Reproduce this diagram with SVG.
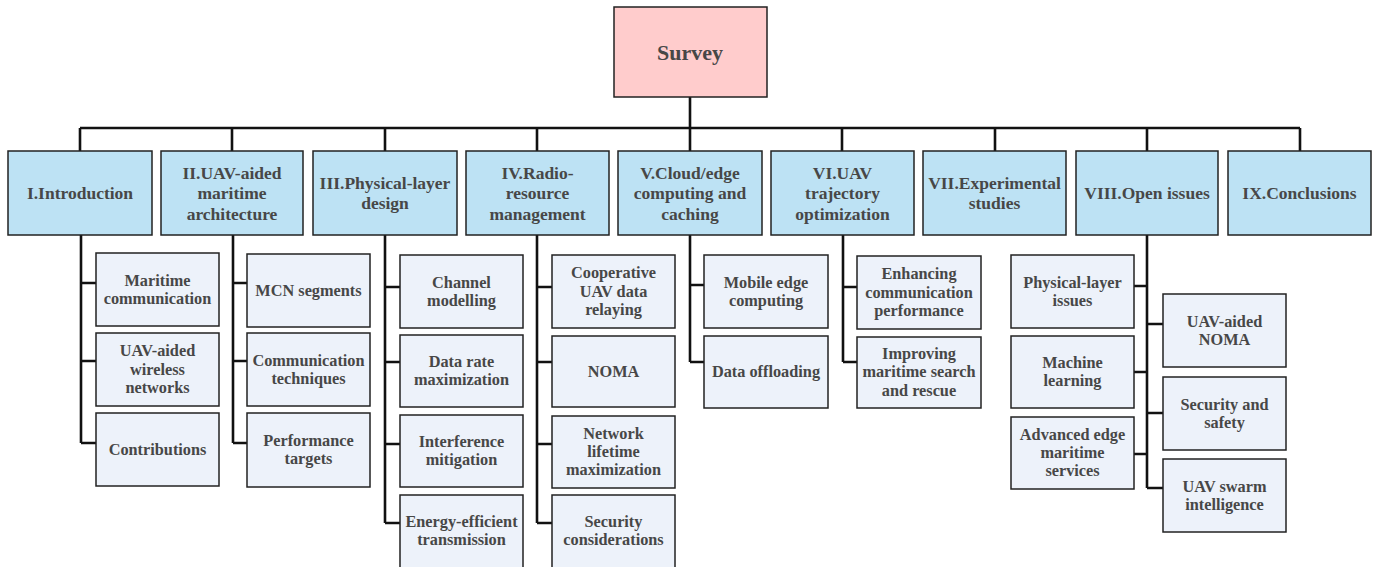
<svg xmlns="http://www.w3.org/2000/svg" width="1374" height="567" viewBox="0 0 1374 567">
<style>
.root{fill:#ffcccc;stroke:#222;stroke-width:1.5}
.hdr{fill:#bde2f4;stroke:#222;stroke-width:1.5}
.sub{fill:#edf2fa;stroke:#222;stroke-width:1.5}
text{font-family:"Liberation Serif","Times New Roman",serif;font-weight:bold;fill:#474747;text-anchor:middle}
.th{font-size:17.5px}
.ts{font-size:16.3px}
.tr{font-size:22px}
.con{fill:none;stroke:#111;stroke-width:2.6}
</style>
<rect width="1374" height="567" fill="#ffffff"/>
<g id="connectors" class="con">
<path d="M690 97V151M80 128H1300M80 128V151M232 128V151M385 128V151M537 128V151M842 128V151M995 128V151M1147 128V151M1300 128V151"/>
<path d="M81 235V443M81 283H96M81 361H96M81 443H96"/>
<path d="M233 235V443M233 283H247M233 361H247M233 443H247"/>
<path d="M385 235V523M385 287H400M385 362H400M385 444H400M385 523H400"/>
<path d="M537 235V523M537 287H552M537 362H552M537 444H552M537 523H552"/>
<path d="M690 235V362M690 285H704M690 362H704"/>
<path d="M843 235V362M843 287H857M843 362H857"/>
<path d="M1147 235V488M1134 286H1147M1134 372H1147M1134 454H1147M1147 324H1163M1147 413H1163M1147 488H1163"/>
</g>
<g id="survey"><rect class="root" x="614" y="7" width="153" height="90"/><text class="tr" x="690" y="60">Survey</text></g>
<g id="h1"><rect class="hdr" x="8" y="151" width="144" height="84"/><text class="th" x="80" y="199">I.Introduction</text></g>
<g id="h2"><rect class="hdr" x="161" y="151" width="142" height="84"/><text class="th" x="232" y="178.5">II.UAV-aided</text><text class="th" x="232" y="199">maritime</text><text class="th" x="232" y="219.5">architecture</text></g>
<g id="h3"><rect class="hdr" x="313" y="151" width="144" height="84"/><text class="th" x="385" y="188.7">III.Physical-layer</text><text class="th" x="385" y="209.2">design</text></g>
<g id="h4"><rect class="hdr" x="466" y="151" width="143" height="84"/><text class="th" x="537.5" y="178.5">IV.Radio-</text><text class="th" x="537.5" y="199">resource</text><text class="th" x="537.5" y="219.5">management</text></g>
<g id="h5"><rect class="hdr" x="618" y="151" width="144" height="84"/><text class="th" x="690" y="178.5">V.Cloud/edge</text><text class="th" x="690" y="199">computing and</text><text class="th" x="690" y="219.5">caching</text></g>
<g id="h6"><rect class="hdr" x="771" y="151" width="143" height="84"/><text class="th" x="842.5" y="178.5">VI.UAV</text><text class="th" x="842.5" y="199">trajectory</text><text class="th" x="842.5" y="219.5">optimization</text></g>
<g id="h7"><rect class="hdr" x="923" y="151" width="143" height="84"/><text class="th" x="994.5" y="188.7">VII.Experimental</text><text class="th" x="994.5" y="209.2">studies</text></g>
<g id="h8"><rect class="hdr" x="1076" y="151" width="142" height="84"/><text class="th" x="1147" y="199">VIII.Open issues</text></g>
<g id="h9"><rect class="hdr" x="1228" y="151" width="143" height="84"/><text class="th" x="1299.5" y="199">IX.Conclusions</text></g>

<g id="s1a"><rect class="sub" x="96" y="253" width="123" height="73"/><text class="ts" x="157.5" y="285.5">Maritime</text><text class="ts" x="157.5" y="303.8">communication</text></g>
<g id="s1b"><rect class="sub" x="96" y="333" width="123" height="73"/><text class="ts" x="157.5" y="356.2">UAV-aided</text><text class="ts" x="157.5" y="374.5">wireless</text><text class="ts" x="157.5" y="392.8">networks</text></g>
<g id="s1c"><rect class="sub" x="96" y="413" width="123" height="73"/><text class="ts" x="157.5" y="454.8">Contributions</text></g>

<g id="s2a"><rect class="sub" x="247" y="254" width="123" height="73"/><text class="ts" x="308.5" y="295.8">MCN segments</text></g>
<g id="s2b"><rect class="sub" x="247" y="333" width="123" height="73"/><text class="ts" x="308.5" y="365.6">Communication</text><text class="ts" x="308.5" y="383.9">techniques</text></g>
<g id="s2c"><rect class="sub" x="247" y="413" width="123" height="74"/><text class="ts" x="308.5" y="446.1">Performance</text><text class="ts" x="308.5" y="464.4">targets</text></g>

<g id="s3a"><rect class="sub" x="400" y="255" width="123" height="73"/><text class="ts" x="461.5" y="287.6">Channel</text><text class="ts" x="461.5" y="305.9">modelling</text></g>
<g id="s3b"><rect class="sub" x="400" y="335" width="123" height="72"/><text class="ts" x="461.5" y="367.1">Data rate</text><text class="ts" x="461.5" y="385.4">maximization</text></g>
<g id="s3c"><rect class="sub" x="400" y="415" width="123" height="72"/><text class="ts" x="461.5" y="447.1">Interference</text><text class="ts" x="461.5" y="465.4">mitigation</text></g>
<g id="s3d"><rect class="sub" x="400" y="495" width="123" height="73"/><text class="ts" x="461.5" y="527">Energy-efficient</text><text class="ts" x="461.5" y="545.3">transmission</text></g>

<g id="s4a"><rect class="sub" x="552" y="255" width="123" height="73"/><text class="ts" x="613.5" y="278.4">Cooperative</text><text class="ts" x="613.5" y="296.7">UAV data</text><text class="ts" x="613.5" y="315">relaying</text></g>
<g id="s4b"><rect class="sub" x="552" y="336" width="123" height="71"/><text class="ts" x="613.5" y="377">NOMA</text></g>
<g id="s4c"><rect class="sub" x="552" y="416" width="123" height="72"/><text class="ts" x="613.5" y="438.7">Network</text><text class="ts" x="613.5" y="457">lifetime</text><text class="ts" x="613.5" y="475.3">maximization</text></g>
<g id="s4d"><rect class="sub" x="552" y="495" width="123" height="73"/><text class="ts" x="613.5" y="527">Security</text><text class="ts" x="613.5" y="545.3">considerations</text></g>

<g id="s5a"><rect class="sub" x="704" y="255" width="124" height="73"/><text class="ts" x="766" y="287.6">Mobile edge</text><text class="ts" x="766" y="305.9">computing</text></g>
<g id="s5b"><rect class="sub" x="704" y="336" width="124" height="72"/><text class="ts" x="766" y="377.3">Data offloading</text></g>

<g id="s6a"><rect class="sub" x="857" y="256" width="124" height="73"/><text class="ts" x="919" y="279.4">Enhancing</text><text class="ts" x="919" y="297.7">communication</text><text class="ts" x="919" y="316">performance</text></g>
<g id="s6b"><rect class="sub" x="857" y="337" width="124" height="71"/><text class="ts" x="919" y="359">Improving</text><text class="ts" x="919" y="377.3">maritime search</text><text class="ts" x="919" y="395.6">and rescue</text></g>

<g id="s8a"><rect class="sub" x="1011" y="255" width="123" height="73"/><text class="ts" x="1072.5" y="287.6">Physical-layer</text><text class="ts" x="1072.5" y="305.9">issues</text></g>
<g id="s8b"><rect class="sub" x="1011" y="336" width="123" height="72"/><text class="ts" x="1072.5" y="368.1">Machine</text><text class="ts" x="1072.5" y="386.4">learning</text></g>
<g id="s8c"><rect class="sub" x="1011" y="417" width="123" height="72"/><text class="ts" x="1072.5" y="439.7">Advanced edge</text><text class="ts" x="1072.5" y="458">maritime</text><text class="ts" x="1072.5" y="476.3">services</text></g>
<g id="s8d"><rect class="sub" x="1163" y="294" width="123" height="73"/><text class="ts" x="1224.5" y="326.6">UAV-aided</text><text class="ts" x="1224.5" y="344.9">NOMA</text></g>
<g id="s8e"><rect class="sub" x="1163" y="377" width="123" height="73"/><text class="ts" x="1224.5" y="409.6">Security and</text><text class="ts" x="1224.5" y="427.9">safety</text></g>
<g id="s8f"><rect class="sub" x="1163" y="459" width="123" height="73"/><text class="ts" x="1224.5" y="491.6">UAV swarm</text><text class="ts" x="1224.5" y="509.9">intelligence</text></g>
</svg>
